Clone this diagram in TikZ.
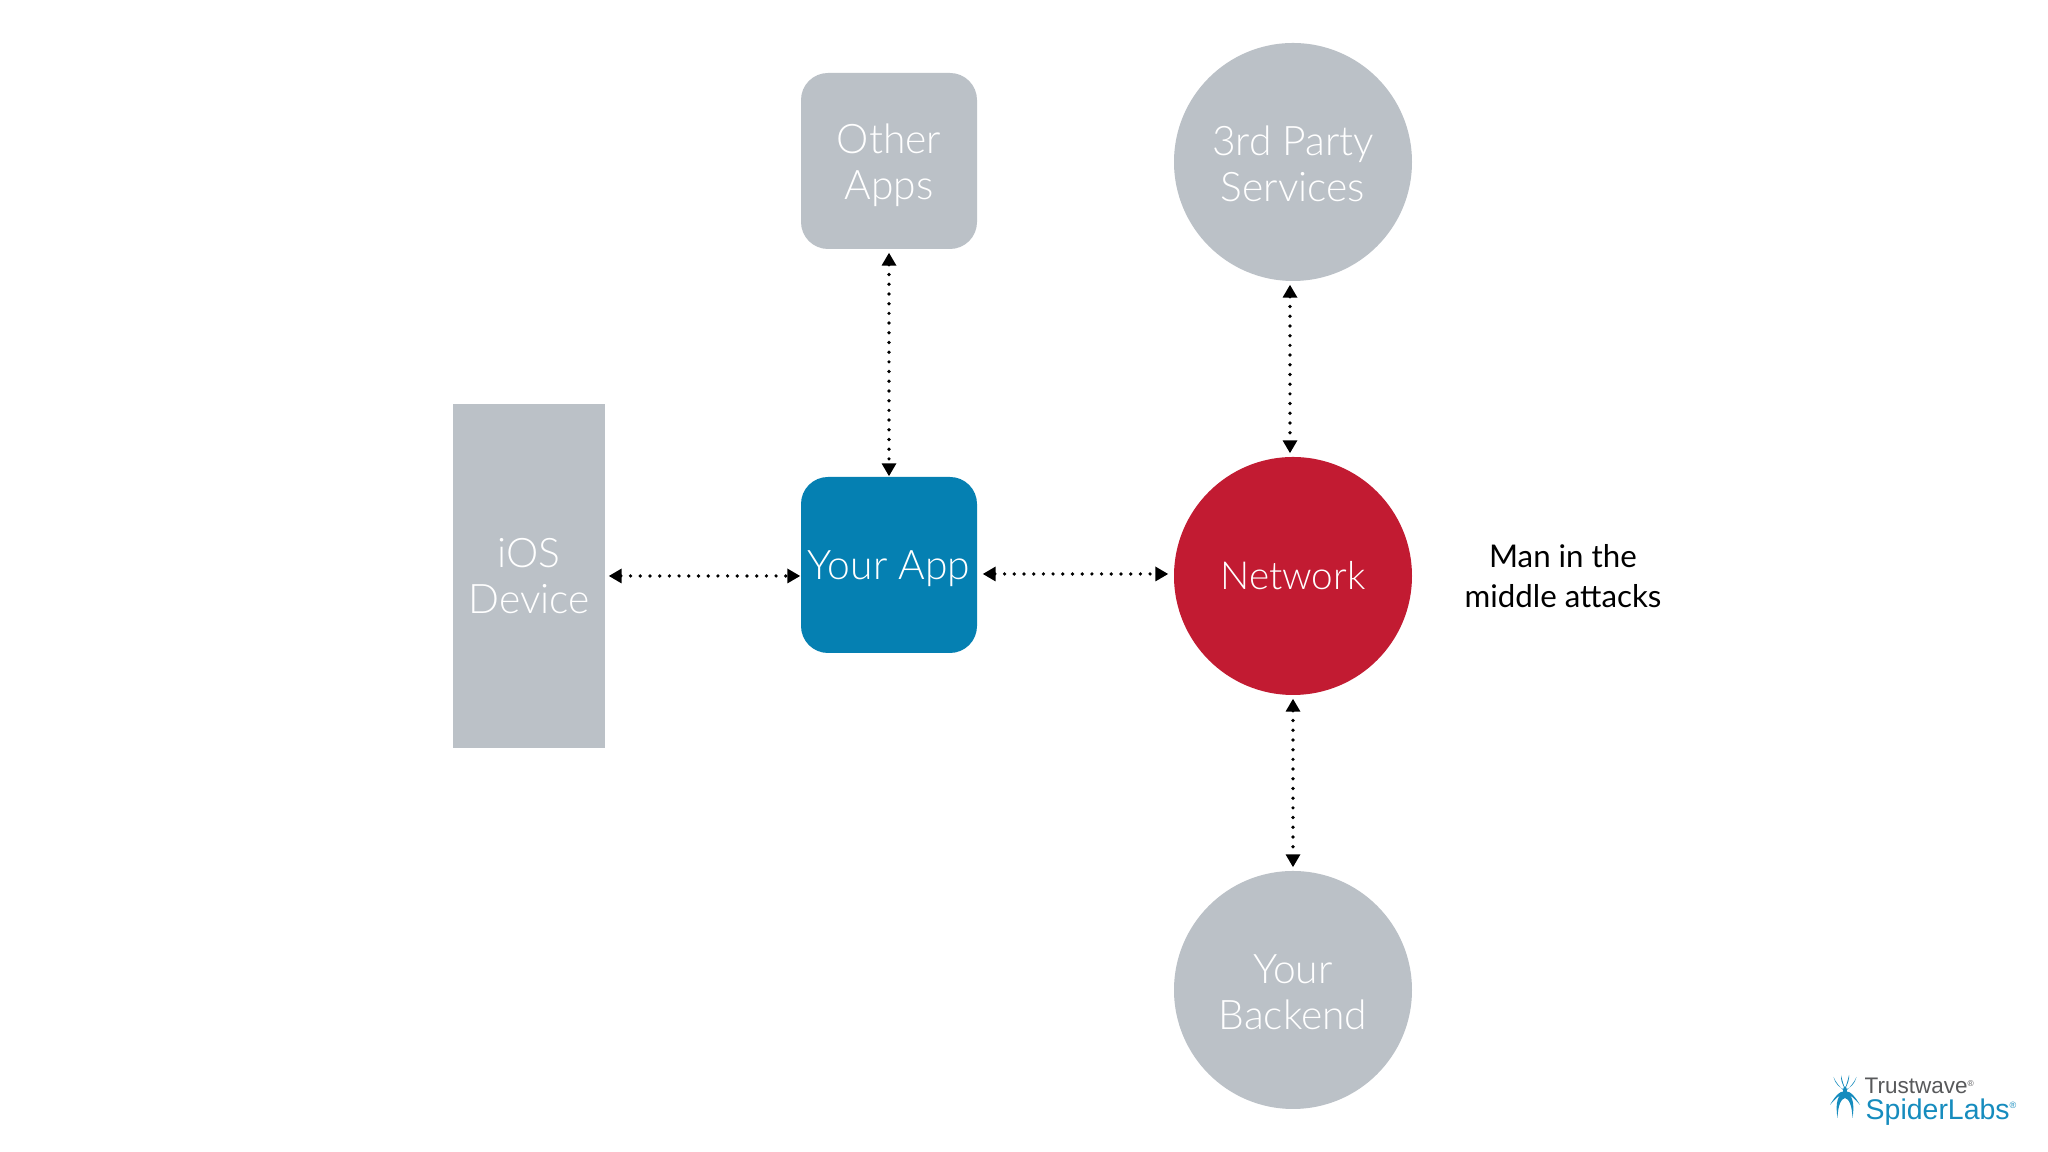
\documentclass[tikz,border=0pt]{standalone}
\usepackage{fontspec}
\setmainfont{Lato Light}
\newfontfamily\captionfont{Lato}
\newfontfamily\logofont{Liberation Sans}
\usetikzlibrary{arrows.meta,calc,positioning}
\definecolor{NodeGray}{RGB}{187,193,199}
\definecolor{AppBlue}{RGB}{5,128,178}
\definecolor{NetRed}{RGB}{194,27,50}
\definecolor{LogoBlue}{RGB}{22,140,190}
\definecolor{LogoGray}{RGB}{88,89,91}
\newcommand{\textdrop}[1]{\rule{0pt}{#1}}
\tikzset{
  label text/.style={text=white,align=center,font=\fontsize{11.6}{13.1}\selectfont,inner sep=0pt},
  boxnode/.style={label text,fill=#1,rounded corners=0.27cm,minimum size=1.76cm},
  roundnode/.style={label text,fill=#1,circle,minimum size=2.38cm},
  link/.style={line width=1.05pt,line cap=round,dash pattern=on 0pt off 2.76pt,
    {Triangle[length=0.13cm,width=0.14cm]}-{Triangle[length=0.13cm,width=0.14cm]},shorten <=0.03cm},
}

\begin{document}
\begin{tikzpicture}
    \useasboundingbox (0,0) rectangle (20.48,11.52);
    \fill[white] (0,0) rectangle (20.48,11.52);
    \node[boxnode=NodeGray] (other) at (8.89,9.91) {\textdrop{11.1pt}Other\\Apps};
    \node[roundnode=NodeGray] (third) at (12.93,9.90) {\textdrop{9.3pt}3rd Party\\Services};
    \node[fill=NodeGray,label text,minimum width=1.52cm,minimum height=3.44cm] (ios) at (5.29,5.76) {iOS\\Device};
    \node[boxnode=AppBlue] (app) at (8.89,5.87) {\textdrop{10.3pt}Your App};
    \node[roundnode=NetRed,font=\fontsize{11}{13}\selectfont] (network) at (12.93,5.76) {Network};
    \node[roundnode=NodeGray] (backend) at (12.93,1.62) {\textdrop{9.3pt}Your\\Backend};
    \node[align=center,font=\captionfont\fontsize{8.9}{11.4}\selectfont,inner sep=0pt] (mitm) at (15.63,5.76) {Man in the\\middle attacks};
    \draw[link] (other.south) -- (app.north);
    \draw[link,shorten >=0.03cm] ([xshift=-0.03cm]third.south) -- ([xshift=-0.03cm]network.north);
    \draw[link,shorten >=0.03cm] (network.south) -- (backend.north);
    \draw[link] (ios.east) -- ([yshift=-0.11cm]app.west);
    \draw[link,shorten <=0.05cm] ([yshift=-0.09cm]app.east) -- ([yshift=0.02cm,xshift=-0.05cm]network.west);
    \node[anchor=base west,inner sep=0pt,text=LogoGray,font=\logofont\fontsize{6.4}{7}\selectfont] (trust) at (18.64,0.585) {Trustwave\raisebox{0.55ex}{\fontsize{2.4}{3}\selectfont\textregistered}};
    \node[anchor=base west,inner sep=0pt,text=LogoBlue,font=\logofont\fontsize{8.1}{9}\selectfont] (spider) at (18.65,0.32) {SpiderLabs\raisebox{0.75ex}{\fontsize{2.6}{3}\selectfont\textregistered}};
    \foreach \side in {1,-1} {
      \begin{scope}[shift={(18.45,0.60)},xscale=\side]
        \fill[LogoBlue] (0,0.02) .. controls (0.05,0.04) and (0.10,0.08) .. (0.115,0.15) .. controls (0.09,0.09) and (0.05,0.05) .. (0,0) -- cycle;
        \fill[LogoBlue] (0,0.03) .. controls (0.03,0.08) and (0.045,0.13) .. (0.04,0.17) .. controls (0.03,0.12) and (0.012,0.07) .. (0,0.03) -- cycle;
        \fill[LogoBlue] (0,0.01) .. controls (0.06,0.01) and (0.11,-0.06) .. (0.15,-0.13) .. controls (0.10,-0.07) and (0.05,-0.02) .. (0,-0.02) -- cycle;
        \fill[LogoBlue] (0,0) .. controls (0.07,-0.02) and (0.10,-0.10) .. (0.075,-0.26) .. controls (0.07,-0.13) and (0.04,-0.07) .. (0,-0.06) -- cycle;
      \end{scope}
    }
    \fill[LogoBlue] (18.45,0.60) ellipse (0.02cm and 0.06cm);
\end{tikzpicture}
\end{document}
